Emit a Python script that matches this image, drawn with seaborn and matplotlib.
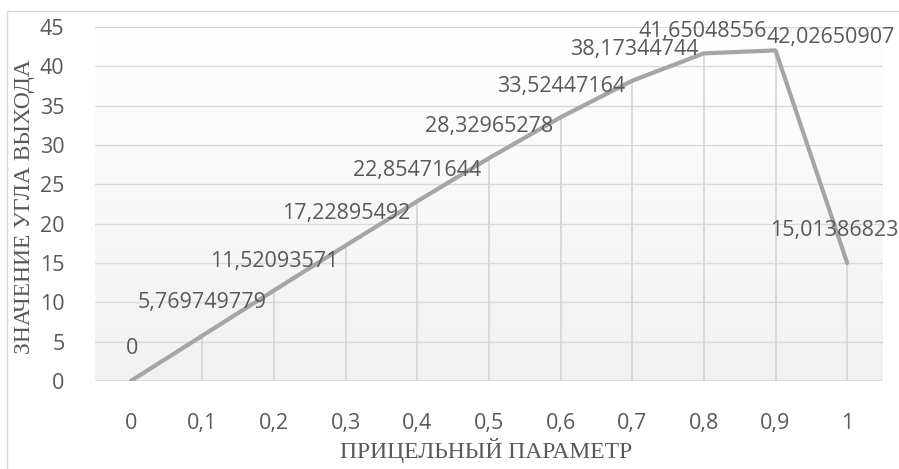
import numpy as np
import pandas as pd
import matplotlib
matplotlib.use("Agg")
import matplotlib.pyplot as plt
import seaborn as sns
from matplotlib.patches import Rectangle

# Data
params = ["0", "0,1", "0,2", "0,3", "0,4", "0,5", "0,6", "0,7", "0,8", "0,9", "1"]
angles = [0, 5.769749779, 11.52093571, 17.22895492, 22.85471644, 28.32965278,
          33.52447164, 38.17344744, 41.65048556, 42.02650907, 15.01386823]
value_labels = ["0", "5,769749779", "11,52093571", "17,22895492", "22,85471644",
                "28,32965278", "33,52447164", "38,17344744", "41,65048556",
                "42,02650907", "15,01386823"]
y_ticks = [0, 5, 10, 15, 20, 25, 30, 35, 40, 45]

# Label offsets in pixels (dx, dy) relative to each point
label_offsets = [(1, 33), (0, 33), (0, 29), (0, 32), (0, 31), (0, 32),
                 (0, 31), (2, 31), (-1, 22), (55, 13), (-13, 32)]

df = pd.DataFrame({"pos": np.arange(len(params)), "angle": angles})

sns.set_theme(style="white")
plt.rcParams["font.family"] = ["Open Sans", "DejaVu Sans"]

W, H = 899, 469
fig = plt.figure(figsize=(W / 100, H / 100), dpi=100)
fig.patch.set_facecolor("white")

# chart frame
fig.add_artist(Rectangle((7 / W, -0.1), 1.2, 1 - 11 / H + 0.1, transform=fig.transFigure,
                         fill=False, edgecolor="#d9d9d9", linewidth=1.0))

ax = fig.add_axes([95 / W, (H - 381) / H, (883 - 95) / W, (381 - 27) / H])
ax.set_xlim(-0.5, len(params) - 0.5)
ax.set_ylim(0, 45)

# vertical gradient background: white at top, light grey at bottom
grad = np.linspace(0, 1, 256).reshape(-1, 1)
cmap = matplotlib.colors.LinearSegmentedColormap.from_list("bg", ["#ffffff", "#f1f1f1"])
ax.imshow(grad, aspect="auto", cmap=cmap, extent=[-0.5, len(params) - 0.5, 0, 45],
          origin="upper", zorder=0)
ax.set_ylim(0, 45)

for yv in y_ticks[1:]:
    ax.axhline(yv, color="#d9d9d9", linewidth=1.0, zorder=1)

# drop lines from each point to the axis
ax.vlines(df["pos"], 0, df["angle"], color="#d4d4d4", linewidth=1.2, zorder=1)

sns.lineplot(data=df, x="pos", y="angle", color="#a5a5a5", linewidth=3.0, ax=ax, zorder=3)

ax.axhline(0, color="#d9d9d9", linewidth=1.8, zorder=2)

for p, v, lab, (dx, dy) in zip(df["pos"], angles, value_labels, label_offsets):
    ax.annotate(lab, (p, v), xytext=(dx, dy), textcoords="offset pixels",
                ha="center", va="center", fontsize=15.5, color="#595959",
                annotation_clip=False, zorder=4)

for s in ax.spines.values():
    s.set_visible(False)

ax.set_xticks(df["pos"])
ax.set_xticklabels(params)
ax.set_yticks(y_ticks)
ax.set_yticklabels([str(t) for t in y_ticks])
ax.tick_params(axis="both", length=0, labelsize=15.5, labelcolor="#595959")
ax.tick_params(axis="x", pad=23)
ax.tick_params(axis="y", pad=22)

ax.set_xlabel("ПРИЦЕЛЬНЫЙ ПАРАМЕТР", family=["Liberation Serif", "DejaVu Serif"],
              fontsize=17, color="#595959")
ax.set_ylabel("ЗНАЧЕНИЕ УГЛА ВЫХОДА", family=["Liberation Serif", "DejaVu Serif"],
              fontsize=17, color="#595959")
ax.xaxis.set_label_coords((486 - 95) / (883 - 95), -(450 - 381) / (381 - 27))
ax.yaxis.set_label_coords(-(95 - 25) / (883 - 95), (381 - 207) / (381 - 27))
ax.xaxis.label.set_va("center")
ax.yaxis.label.set_va("center")

fig.savefig("out.png", dpi=100)
